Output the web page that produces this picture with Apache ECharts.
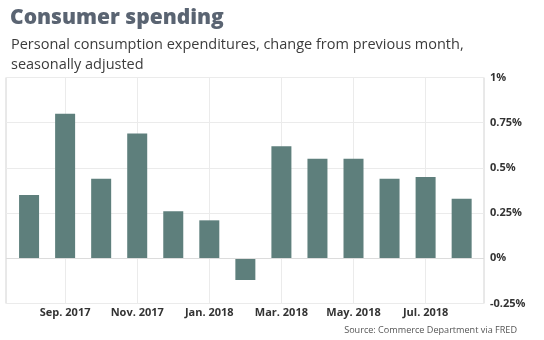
<!DOCTYPE html>
<html>
<head>
<meta charset="utf-8">
<script src="https://cdn.jsdelivr.net/npm/echarts@6/dist/echarts.min.js"></script>
<style>
  html, body { margin: 0; padding: 0; background: #fff; }
  #chart { width: 544px; height: 340px; }
</style>
</head>
<body>
<div id="chart"></div>
<script>
// Monthly change in personal consumption expenditures, percent
const months = ['Aug. 2017', 'Sep. 2017', 'Oct. 2017', 'Nov. 2017', 'Dec. 2017', 'Jan. 2018',
  'Feb. 2018', 'Mar. 2018', 'Apr. 2018', 'May. 2018', 'Jun. 2018', 'Jul. 2018', 'Aug. 2018'];
const changes = [0.35, 0.8, 0.44, 0.69, 0.26, 0.21, -0.12, 0.62, 0.55, 0.55, 0.44, 0.45, 0.33];
// Every other month gets a label and a vertical grid line
const labeledIdx = [1, 3, 5, 7, 9, 11];
const yTicks = [-0.25, 0, 0.25, 0.5, 0.75, 1];

const titleText = 'Consumer spending';
const subtitleText = 'Personal consumption expenditures, change from previous month,\nseasonally adjusted';
const sourceText = 'Source: Commerce Department via FRED';

const FONT = 'Open Sans';
const chart = echarts.init(document.getElementById('chart'), null, { renderer: 'canvas' });

chart.setOption({
  animation: false,
  backgroundColor: '#ffffff',
  title: [
    {
      text: titleText, left: 5, top: 3,
      textStyle: { fontFamily: FONT, fontSize: 21, fontWeight: 800, color: '#5a6472' }
    },
    {
      text: subtitleText, left: 6, top: 30,
      textStyle: { fontFamily: FONT, fontSize: 14.5, fontWeight: 'normal', color: '#3c3c3c', lineHeight: 20 }
    },
    {
      text: sourceText, right: 22, top: 321,
      textStyle: { fontFamily: FONT, fontSize: 9.1, fontWeight: 'normal', color: '#555555' }
    }
  ],
  grid: {
    left: 6, right: 60, top: 77.5, bottom: 36.5,
    show: true, borderColor: '#d2d2d2', borderWidth: 1
  },
  xAxis: {
    type: 'value',
    min: -0.64, max: 12.62,
    axisLine: { show: false, onZero: false },
    axisTick: { show: false, customValues: labeledIdx },
    axisLabel: {
      customValues: labeledIdx,
      formatter: v => months[Math.round(v)],
      margin: 4,
      fontFamily: FONT, fontSize: 11, fontWeight: 'bold', color: '#333333'
    },
    splitLine: { show: true, lineStyle: { color: '#ebebeb', width: 1 } }
  },
  yAxis: {
    type: 'value',
    position: 'right',
    min: yTicks[0], max: yTicks[yTicks.length - 1], interval: 0.25,
    axisLine: { show: false },
    axisTick: { show: false },
    axisLabel: {
      formatter: v => String(+v.toFixed(2)) + '%',
      margin: 6,
      fontFamily: FONT, fontSize: 11, fontWeight: 'bold', color: '#333333'
    },
    splitLine: { show: true, lineStyle: { color: '#ebebeb', width: 1 } }
  },
  series: [{
    type: 'bar',
    barWidth: 20,
    data: changes.map((v, i) => [i, v]),
    itemStyle: { color: '#5e7f7c' },
    markLine: {
      silent: true, symbol: 'none', label: { show: false },
      lineStyle: { color: '#dcdcdc', type: 'solid', width: 1 },
      data: [{ yAxis: 0 }]
    },
    z: 3
  }]
});
</script>
</body>
</html>
